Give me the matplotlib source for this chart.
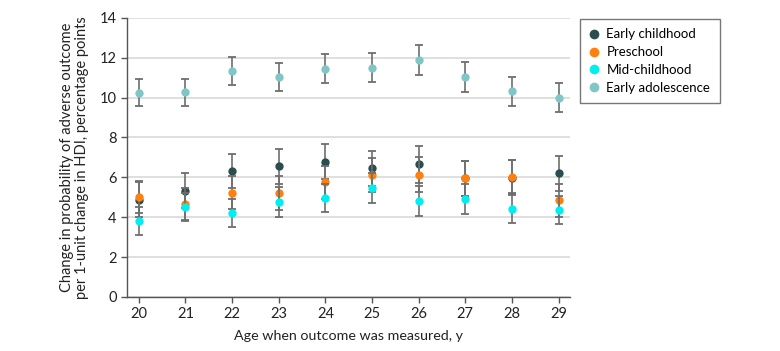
import matplotlib
matplotlib.use("Agg")
import matplotlib.pyplot as plt
from matplotlib.lines import Line2D
import numpy as np

plt.rcParams['font.family'] = ['Lato', 'DejaVu Sans']

ages = [20, 21, 22, 23, 24, 25, 26, 27, 28, 29]

series_names = ["Early childhood", "Preschool", "Mid-childhood", "Early adolescence"]

early_childhood = [4.87, 5.33, 6.32, 6.55, 6.78, 6.45, 6.65, 5.95, 5.98, 6.22]
early_childhood_lo = [3.99, 4.46, 5.47, 5.67, 5.90, 5.57, 5.73, 5.07, 5.10, 5.33]
early_childhood_hi = [5.75, 6.20, 7.19, 7.43, 7.68, 7.33, 7.55, 6.84, 6.85, 7.08]

preschool = [5.03, 4.65, 5.24, 5.20, 5.75, 6.14, 6.14, 5.95, 6.04, 4.85]
preschool_lo = [4.23, 3.85, 4.43, 4.37, 4.92, 5.28, 5.28, 5.06, 5.20, 4.03]
preschool_hi = [5.84, 5.45, 6.06, 6.06, 6.58, 6.98, 7.03, 6.82, 6.86, 5.68]

mid_childhood = [3.82, 4.49, 4.21, 4.76, 4.98, 5.49, 4.80, 4.90, 4.43, 4.38]
mid_childhood_lo = [3.12, 3.80, 3.50, 4.03, 4.28, 4.73, 4.05, 4.15, 3.70, 3.68]
mid_childhood_hi = [4.53, 5.20, 4.91, 5.50, 5.68, 6.22, 5.56, 5.65, 5.16, 5.08]

early_adolescence = [10.24, 10.27, 11.32, 11.02, 11.46, 11.51, 11.88, 11.02, 10.31, 9.99]
early_adolescence_lo = [9.56, 9.60, 10.63, 10.32, 10.75, 10.78, 11.15, 10.30, 9.60, 9.30]
early_adolescence_hi = [10.92, 10.94, 12.03, 11.75, 12.20, 12.25, 12.63, 11.78, 11.05, 10.72]

colors = ["#2b4d4e", "#ff7f0f", "#00eef0", "#80c6c6"]
stem_color = "#6e6e6e"

fig = plt.figure(figsize=(7.8, 3.51), dpi=100)
ax = fig.add_axes([0.163, 0.154, 0.568, 0.795])

data = [
    (early_childhood, early_childhood_lo, early_childhood_hi),
    (preschool, preschool_lo, preschool_hi),
    (mid_childhood, mid_childhood_lo, mid_childhood_hi),
    (early_adolescence, early_adolescence_lo, early_adolescence_hi),
]

x = np.array(ages, dtype=float)
for i, ((y, lo, hi), c) in enumerate(zip(data, colors)):
    y = np.array(y); lo = np.array(lo); hi = np.array(hi)
    yerr = np.vstack([y - lo, hi - y])
    _, caps, bars = ax.errorbar(x, y, yerr=yerr, fmt='none', ecolor=stem_color,
                                elinewidth=1.2, capsize=3, capthick=1.3, zorder=3 + i)
    for cl in caps:
        cl.set_color(c)
    ax.plot(x, y, 'o', color=c, markersize=6, markeredgewidth=0, zorder=3.5 + i)

ax.set_xlim(19.75, 29.25)
ax.set_ylim(0, 14)
ax.set_xticks(ages)
ax.set_yticks(np.arange(0, 15, 2))
ax.yaxis.grid(True, color="#dcdcdc", linewidth=1.3)
ax.set_axisbelow(True)
for s in ["top", "right"]:
    ax.spines[s].set_visible(False)
for s in ["left", "bottom"]:
    ax.spines[s].set_color("#555555")
    ax.spines[s].set_linewidth(1.0)
ax.tick_params(axis='both', colors="#555555", labelcolor="#222222", labelsize=10.5,
               length=4, width=1.0)

ax.set_xlabel("Age when outcome was measured, y", fontsize=10.3, color="#222222", labelpad=6)
ax.set_ylabel("Change in probability of adverse outcome\nper 1-unit change in HDI, percentage points",
              fontsize=10.5, color="#222222", labelpad=8, linespacing=1.1)

handles = [Line2D([], [], linestyle='none', marker='o', color=c, markersize=7,
                  markeredgewidth=0) for c in colors]
leg = fig.legend(handles, series_names, loc='upper left',
                 bbox_to_anchor=(580 / 780, 1 - 19 / 351), fontsize=9.5,
                 frameon=True, fancybox=False, edgecolor="#555555",
                 handlelength=0.7, handletextpad=0.6, borderpad=0.7,
                 labelspacing=0.45, borderaxespad=0)
leg.get_frame().set_linewidth(1.0)

fig.savefig("out.png", dpi=100)
